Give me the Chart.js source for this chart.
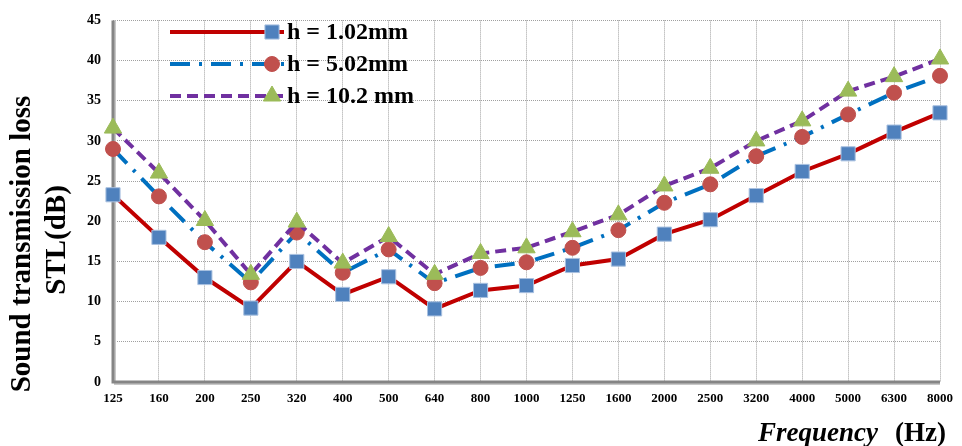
<!DOCTYPE html>
<html>
<head>
<meta charset="utf-8">
<script src="https://cdn.jsdelivr.net/npm/chart.js@4/dist/chart.umd.min.js"></script>
<style>
  html, body { margin: 0; padding: 0; background: #fff; }
  #wrap { width: 962px; height: 446px; position: relative; }
</style>
</head>
<body>
<div id="wrap"><canvas id="stl"></canvas></div>
<script>
// Frequency bands (Hz)
const frequencies = ['125', '160', '200', '250', '320', '400', '500', '640', '800', '1000',
    '1250', '1600', '2000', '2500', '3200', '4000', '5000', '6300', '8000'];

// STL (dB)
const stlH102 = [23.3, 18.0, 13.0, 9.2, 15.0, 10.9, 13.1, 9.1, 11.4, 12.0,
    14.5, 15.3, 18.4, 20.2, 23.2, 26.2, 28.4, 31.1, 33.5];
const stlH502 = [29.0, 23.1, 17.4, 12.4, 18.6, 13.6, 16.5, 12.3, 14.2, 14.9,
    16.7, 18.9, 22.3, 24.6, 28.1, 30.5, 33.3, 36.0, 38.1];
const stlH102mm = [31.6, 26.0, 20.1, 13.4, 19.9, 14.8, 18.1, 13.4, 16.0, 16.7,
    18.7, 20.8, 24.4, 26.6, 30.0, 32.5, 36.2, 38.0, 40.2];

const yTicks = [0, 5, 10, 15, 20, 25, 30, 35, 40, 45];

const seriesLabels = ['h = 1.02mm', 'h = 5.02mm', 'h = 10.2 mm'];

const SERIF = '"Liberation Serif", "Times New Roman", serif';

/**
 * Thick grey axis lines (left + bottom), under the data
 */
const axisLines = {
    id: 'axisLines',
    beforeDatasetsDraw(chart) {
        const { ctx, chartArea: a } = chart;
        ctx.save();
        ctx.strokeStyle = '#C8C8C8';
        ctx.lineWidth = 2;
        ctx.beginPath();
        ctx.moveTo(a.left + 2, a.top);
        ctx.lineTo(a.left + 2, a.bottom + 2);
        ctx.lineTo(a.right, a.bottom + 2);
        ctx.stroke();
        ctx.strokeStyle = '#858585';
        ctx.lineWidth = 3;
        ctx.beginPath();
        ctx.moveTo(a.left, a.top);
        ctx.lineTo(a.left, a.bottom);
        ctx.lineTo(a.right, a.bottom);
        ctx.stroke();
        ctx.restore();
    }
};

/**
 * Legend + axis titles drawn by hand to match the original layout
 */
const annotations = {
    id: 'annotations',
    afterDraw(chart) {
        const ctx = chart.ctx;
        ctx.save();

        // legend, inside the plot at upper left
        const rows = [32, 64, 96];
        chart.data.datasets.forEach((ds, i) => {
            const y = rows[i];
            ctx.strokeStyle = ds.borderColor;
            ctx.lineWidth = 4;
            ctx.setLineDash(ds.borderDash || []);
            ctx.beginPath();
            ctx.moveTo(170, y);
            ctx.lineTo(284, y);
            ctx.stroke();
            ctx.setLineDash([]);
            ctx.fillStyle = ds.pointBackgroundColor;
            ctx.strokeStyle = ds.pointBorderColor;
            ctx.lineWidth = 1;
            Chart.helpers.drawPoint(ctx, {
                pointStyle: ds.pointStyle,
                radius: ds.pointRadius,
                borderWidth: 1,
            }, 272, y);
            ctx.fillStyle = '#000';
            ctx.font = 'bold 24px ' + SERIF;
            ctx.textAlign = 'left';
            ctx.textBaseline = 'middle';
            ctx.fillText(ds.label, 287, y + 1);
        });

        // y-axis title, two rotated lines
        ctx.fillStyle = '#000';
        ctx.font = 'bold 29px ' + SERIF;
        ctx.textAlign = 'center';
        ctx.textBaseline = 'middle';
        ctx.translate(23, 244);
        ctx.rotate(-Math.PI / 2);
        ctx.fillText('Sound transmission loss', 0, 0);
        ctx.fillText('STL(dB)', 4, 35);
        ctx.setTransform(1, 0, 0, 1, 0, 0);

        // x-axis title
        ctx.textAlign = 'right';
        ctx.textBaseline = 'alphabetic';
        ctx.font = 'bold 27px ' + SERIF;
        ctx.fillText('(Hz)', 946, 441);
        const hzW = ctx.measureText('(Hz)').width;
        ctx.font = 'italic bold 27px ' + SERIF;
        ctx.fillText('Frequency', 946 - hzW - 17, 441);
        ctx.restore();
    }
};

const ctx = document.getElementById('stl');
const chart = new Chart(ctx, {
    type: 'line',
    data: {
        labels: frequencies,
        datasets: [{
            label: seriesLabels[0],
            data: stlH102,
            borderColor: '#C00000',
            borderWidth: 4,
            pointStyle: 'rect',
            pointRadius: 10,
            pointBackgroundColor: '#4F81BD',
            pointBorderColor: '#A9C1E0',
            pointBorderWidth: 1,
            order: 3
        }, {
            label: seriesLabels[1],
            data: stlH502,
            borderColor: '#0070C0',
            borderWidth: 4,
            borderDash: [20, 9, 3, 9],
            pointStyle: 'circle',
            pointRadius: 7.5,
            pointBackgroundColor: '#C0504D',
            pointBorderColor: '#C0504D',
            pointBorderWidth: 1,
            order: 2
        }, {
            label: seriesLabels[2],
            data: stlH102mm,
            borderColor: '#7030A0',
            borderWidth: 4,
            borderDash: [11, 6],
            pointStyle: 'triangle',
            pointRadius: 10,
            pointBackgroundColor: '#9BBB59',
            pointBorderColor: '#9BBB59',
            pointBorderWidth: 1,
            order: 1
        }]
    },
    options: {
        responsive: true,
        maintainAspectRatio: false,
        animation: false,
        layout: { padding: { top: 15, right: 15, bottom: 0, left: 0 } },
        plugins: {
            legend: { display: false },
            tooltip: { enabled: false }
        },
        elements: { line: { tension: 0 } },
        scales: {
            x: {
                offset: false,
                grid: { color: '#A0A0A0', lineWidth: 1, drawTicks: false },
                border: { display: false, dash: [1, 1] },
                ticks: {
                    color: '#000',
                    padding: 9,
                    maxRotation: 0,
                    autoSkip: false,
                    font: { family: SERIF, size: 13, weight: 'bold' }
                },
                afterFit(scale) { scale.height = 64; }
            },
            y: {
                min: 0,
                max: 45,
                afterBuildTicks(scale) { scale.ticks = yTicks.map(v => ({ value: v })); },
                grid: { color: '#A0A0A0', lineWidth: 1, drawTicks: false },
                border: { display: false, dash: [1, 1] },
                ticks: {
                    color: '#000',
                    padding: 12,
                    font: { family: SERIF, size: 14, weight: 'bold' }
                },
                afterFit(scale) { scale.width = 113; }
            }
        }
    },
    plugins: [axisLines, annotations]
});
</script>
</body>
</html>
